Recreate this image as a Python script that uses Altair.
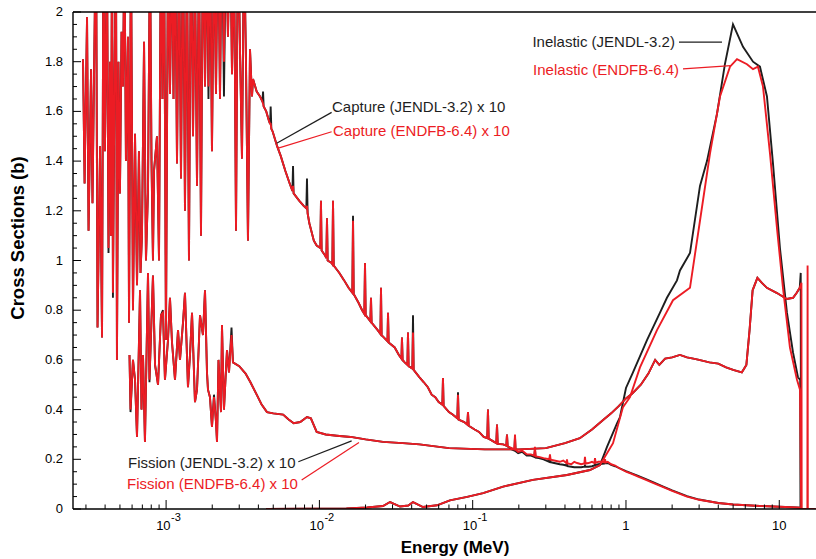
import altair as alt
import pandas as pd

BLACK = "#1e1e1e"
RED = "#ec1c24"
FONT = "Liberation Sans"

# ---------------- data (energies in MeV, cross sections in b) ----------------
# Capture x10 - resolved resonance region
cap_res_E = [2.87e-4, 2.94e-4, 3.05e-4, 3.12e-4, 3.24e-4, 3.31e-4, 3.49e-4, 3.57e-4, 3.71e-4, 3.82e-4,
             3.91e-4, 3.99e-4, 4.12e-4, 4.21e-4, 4.31e-4, 4.37e-4, 4.44e-4, 4.50e-4, 4.61e-4, 4.71e-4,
             4.78e-4, 4.89e-4, 5.00e-4, 5.12e-4, 5.23e-4, 5.35e-4, 5.47e-4, 5.64e-4, 5.73e-4, 5.90e-4,
             6.08e-4, 6.27e-4, 6.46e-4, 6.65e-4, 6.81e-4, 6.96e-4, 7.18e-4, 7.39e-4, 7.62e-4, 7.85e-4,
             8.03e-4, 8.21e-4, 8.34e-4, 8.72e-4, 8.99e-4, 9.26e-4, 9.47e-4, 9.69e-4, 9.98e-4, 1.029e-3,
             1.060e-3, 1.093e-3, 1.118e-3, 1.143e-3, 1.178e-3, 1.214e-3, 1.251e-3, 1.289e-3, 1.328e-3, 1.368e-3,
             1.410e-3, 1.454e-3, 1.498e-3, 1.543e-3, 1.591e-3, 1.639e-3, 1.689e-3, 1.740e-3, 1.794e-3, 1.848e-3,
             1.890e-3, 1.933e-3, 1.992e-3, 2.053e-3, 2.116e-3, 2.181e-3, 2.247e-3, 2.315e-3, 2.385e-3, 2.458e-3,
             2.533e-3, 2.611e-3, 2.691e-3, 2.773e-3, 2.858e-3, 2.944e-3, 3.034e-3, 3.127e-3, 3.222e-3, 3.320e-3,
             3.421e-3, 3.526e-3, 3.633e-3]
cap_res_endf = [1.81, 1.31, 1.98, 1.12, 1.77, 1.23, 2.40, 0.73, 1.46, 0.69,
                2.50, 1.44, 2.20, 1.05, 1.80, 1.10, 2.40, 0.87, 1.75, 2.30,
                0.60, 1.80, 1.27, 1.92, 1.70, 2.30, 1.40, 1.90, 0.75, 2.30,
                0.80, 1.51, 0.90, 1.44, 0.95, 1.10, 1.88, 1.00, 1.28, 2.30,
                1.40, 1.00, 1.36, 1.50, 1.00, 2.40, 1.65, 2.40, 0.68, 2.30,
                1.67, 2.30, 1.65, 2.40, 1.39, 2.30, 1.33, 2.40, 1.20, 2.30,
                1.00, 2.40, 1.50, 2.20, 1.30, 2.30, 1.10, 2.40, 1.70, 2.30,
                1.70, 2.40, 1.44, 2.30, 1.67, 2.40, 1.65, 2.40, 1.80, 2.30,
                1.90, 2.40, 1.75, 2.30, 1.12, 2.40, 1.85, 1.41, 2.30, 1.80,
                1.08, 1.85, 1.66]
cap_res_jendl = [1.81, 1.31, 1.98, 1.12, 1.77, 1.23, 2.40, 0.73, 1.46, 0.69,
                 2.50, 1.44, 2.20, 1.03, 1.80, 1.10, 2.40, 0.85, 1.75, 2.30,
                 0.60, 1.80, 1.27, 1.92, 1.70, 2.30, 1.40, 1.90, 0.75, 2.30,
                 0.80, 1.51, 0.90, 1.44, 0.95, 1.10, 1.88, 1.00, 1.28, 2.30,
                 1.40, 1.00, 1.36, 1.50, 1.00, 2.40, 1.65, 2.40, 0.68, 2.30,
                 1.67, 2.30, 1.65, 2.40, 1.39, 2.30, 1.33, 2.40, 1.20, 2.30,
                 1.00, 2.40, 1.50, 2.20, 1.30, 2.30, 1.10, 2.40, 1.70, 2.30,
                 1.65, 2.40, 1.44, 2.30, 1.67, 2.40, 1.65, 2.40, 1.66, 2.30,
                 1.90, 2.40, 1.75, 2.30, 1.12, 2.40, 1.85, 1.41, 2.30, 1.80,
                 1.08, 1.85, 1.66]

# Capture x10 - above the resolved resonances
cap_tail_E = [3.69e-3, 3.9e-3, 4.1e-3, 4.25e-3, 4.29e-3, 4.33e-3, 4.5e-3, 4.7e-3, 4.77e-3, 4.81e-3,
              4.86e-3, 4.95e-3, 5.3e-3, 5.6e-3, 6.0e-3, 6.4e-3, 6.67e-3, 6.73e-3, 6.79e-3, 7.4e-3,
              7.9e-3, 8.22e-3, 8.3e-3, 8.38e-3, 8.6e-3, 9.2e-3, 9.6e-3, 1.014e-2, 1.024e-2, 1.034e-2,
              1.09e-2, 1.11e-2, 1.121e-2, 1.132e-2, 1.2e-2, 1.215e-2, 1.227e-2, 1.24e-2, 1.35e-2, 1.45e-2,
              1.55e-2, 1.64e-2, 1.657e-2, 1.674e-2, 1.8e-2, 1.9e-2, 1.964e-2, 1.984e-2, 2.004e-2, 2.15e-2,
              2.171e-2, 2.19e-2, 2.4e-2, 2.5e-2, 2.523e-2, 2.546e-2, 2.78e-2, 2.803e-2, 2.83e-2, 3.1e-2,
              3.3e-2, 3.43e-2, 3.457e-2, 3.49e-2, 3.6e-2, 3.75e-2, 3.784e-2, 3.82e-2, 4.04e-2, 4.08e-2,
              4.12e-2, 4.5e-2, 4.8e-2, 5.1e-2, 5.4e-2, 5.7e-2, 6.0e-2, 6.34e-2, 6.4e-2, 6.46e-2,
              7.0e-2, 7.4e-2, 7.94e-2, 8.02e-2, 8.1e-2, 8.8e-2, 9.22e-2, 9.32e-2, 9.42e-2, 0.103,
              0.11, 0.118, 0.1245, 0.1258, 0.1271, 0.138, 0.1426, 0.1441, 0.1456, 0.158,
              0.1657, 0.1674, 0.1691, 0.18, 0.1869, 0.1888, 0.1907, 0.198, 0.21, 0.225,
              0.24, 0.252, 0.2548, 0.2575, 0.27, 0.29, 0.316, 0.3192, 0.3224, 0.34,
              0.37, 0.39, 0.408, 0.4122, 0.416, 0.44, 0.46, 0.48, 0.51, 0.535,
              0.54, 0.545, 0.57, 0.60, 0.622, 0.628, 0.634, 0.66, 0.70, 0.723,
              0.73, 0.737, 0.76, 0.80, 0.85, 0.9, 1.0, 1.1, 1.2, 1.35,
              1.5, 1.75, 2.0, 2.5, 3.0, 4.0, 5.0, 7.0, 10.0, 13.0,
              13.8]
cap_tail_endf = [1.73, 1.68, 1.66, 1.64, 1.63, 1.62, 1.60, 1.56, 1.55, 1.55,
                 1.53, 1.52, 1.46, 1.42, 1.36, 1.31, 1.28, 1.30, 1.27, 1.24,
                 1.22, 1.21, 1.22, 1.19, 1.15, 1.08, 1.06, 1.05, 1.24, 1.04,
                 1.02, 1.01, 1.17, 1.00, 0.99, 0.985, 1.24, 0.98, 0.95, 0.92,
                 0.89, 0.87, 1.16, 0.865, 0.83, 0.80, 0.785, 0.99, 0.78, 0.755,
                 0.85, 0.75, 0.72, 0.705, 0.89, 0.70, 0.675, 0.79, 0.67, 0.65,
                 0.62, 0.605, 0.69, 0.60, 0.59, 0.58, 0.71, 0.575, 0.565, 0.71,
                 0.56, 0.53, 0.51, 0.49, 0.46, 0.45, 0.43, 0.42, 0.527, 0.415,
                 0.39, 0.38, 0.365, 0.46, 0.36, 0.35, 0.34, 0.39, 0.335, 0.32,
                 0.31, 0.29, 0.285, 0.40, 0.283, 0.27, 0.265, 0.34, 0.262, 0.26,
                 0.255, 0.30, 0.252, 0.245, 0.24, 0.30, 0.238, 0.23, 0.235, 0.22,
                 0.22, 0.215, 0.25, 0.212, 0.21, 0.205, 0.20, 0.22, 0.198, 0.195,
                 0.19, 0.195, 0.185, 0.20, 0.183, 0.18, 0.19, 0.185, 0.18, 0.183,
                 0.21, 0.183, 0.185, 0.19, 0.185, 0.205, 0.186, 0.19, 0.19, 0.188,
                 0.20, 0.187, 0.19, 0.18, 0.175, 0.165, 0.15, 0.14, 0.13, 0.117,
                 0.105, 0.088, 0.073, 0.05, 0.037, 0.024, 0.018, 0.013, 0.009, 0.006,
                 0.005]
cap_tail_jendl = [1.73, 1.68, 1.66, 1.64, 1.68, 1.62, 1.60, 1.56, 1.55, 1.62,
                  1.53, 1.52, 1.46, 1.42, 1.36, 1.31, 1.28, 1.38, 1.27, 1.24,
                  1.22, 1.21, 1.33, 1.19, 1.15, 1.08, 1.06, 1.05, 1.24, 1.04,
                  1.02, 1.01, 1.17, 1.00, 0.99, 0.985, 1.24, 0.98, 0.95, 0.92,
                  0.89, 0.87, 1.18, 0.865, 0.83, 0.80, 0.785, 0.99, 0.78, 0.755,
                  0.85, 0.75, 0.72, 0.705, 0.89, 0.70, 0.675, 0.79, 0.67, 0.65,
                  0.62, 0.605, 0.69, 0.60, 0.59, 0.58, 0.71, 0.575, 0.565, 0.78,
                  0.56, 0.53, 0.51, 0.49, 0.46, 0.45, 0.43, 0.42, 0.527, 0.415,
                  0.39, 0.38, 0.365, 0.47, 0.36, 0.35, 0.34, 0.39, 0.335, 0.32,
                  0.31, 0.29, 0.285, 0.40, 0.283, 0.27, 0.265, 0.34, 0.262, 0.26,
                  0.255, 0.30, 0.252, 0.24, 0.235, 0.29, 0.232, 0.225, 0.23, 0.215,
                  0.215, 0.21, 0.24, 0.207, 0.205, 0.20, 0.19, 0.21, 0.188, 0.185,
                  0.18, 0.178, 0.175, 0.185, 0.172, 0.17, 0.168, 0.168, 0.168, 0.17,
                  0.175, 0.17, 0.17, 0.172, 0.175, 0.18, 0.177, 0.18, 0.182, 0.183,
                  0.185, 0.184, 0.185, 0.178, 0.172, 0.165, 0.152, 0.142, 0.133, 0.12,
                  0.108, 0.09, 0.075, 0.052, 0.038, 0.024, 0.018, 0.013, 0.009, 0.006,
                  0.005]

# Fission x10 - resolved resonance region
fis_res_E = [5.77e-4, 5.86e-4, 6.08e-4, 6.27e-4, 6.46e-4, 6.76e-4, 6.91e-4, 7.07e-4, 7.28e-4, 7.62e-4,
             7.79e-4, 8.21e-4, 8.47e-4, 8.86e-4, 9.26e-4, 9.54e-4, 9.83e-4, 1.029e-3, 1.060e-3, 1.093e-3,
             1.143e-3, 1.196e-3, 1.232e-3, 1.289e-3, 1.328e-3, 1.389e-3, 1.432e-3, 1.476e-3, 1.543e-3, 1.591e-3,
             1.664e-3, 1.740e-3, 1.794e-3, 1.848e-3, 1.876e-3, 1.933e-3, 1.992e-3, 2.053e-3, 2.116e-3, 2.148e-3,
             2.197e-3, 2.281e-3, 2.315e-3, 2.385e-3, 2.496e-3, 2.572e-3, 2.671e-3]
fis_res_endf = [0.62, 0.40, 0.60, 0.52, 0.29, 0.88, 0.40, 0.62, 0.27, 0.95,
                0.52, 0.94, 0.58, 0.50, 0.78, 0.79, 0.52, 0.68, 0.85, 0.67,
                0.52, 0.72, 0.60, 0.75, 0.87, 0.49, 0.62, 0.79, 0.43, 0.48,
                0.78, 0.70, 0.88, 0.55, 0.48, 0.45, 0.33, 0.45, 0.35, 0.27,
                0.60, 0.39, 0.74, 0.40, 0.64, 0.55, 0.70]
fis_res_jendl = [0.62, 0.39, 0.60, 0.52, 0.29, 0.88, 0.40, 0.62, 0.27, 0.95,
                 0.51, 0.94, 0.58, 0.50, 0.78, 0.80, 0.52, 0.68, 0.85, 0.67,
                 0.52, 0.72, 0.60, 0.75, 0.87, 0.49, 0.62, 0.79, 0.43, 0.48,
                 0.78, 0.70, 0.88, 0.55, 0.48, 0.45, 0.33, 0.46, 0.35, 0.27,
                 0.60, 0.39, 0.74, 0.40, 0.64, 0.55, 0.73]

# Fission x10 - smooth part (both libraries)
fis_E = [2.73e-3, 3.0e-3, 3.3e-3, 3.55e-3, 3.9e-3, 4.2e-3, 4.55e-3, 5.0e-3, 5.8e-3, 6.3e-3,
         6.8e-3, 7.5e-3, 8.3e-3, 8.8e-3, 9.6e-3, 1.1e-2, 1.3e-2, 1.6e-2, 2.0e-2, 2.6e-2,
         3.5e-2, 4.5e-2, 7.0e-2, 0.12, 0.2, 0.3, 0.4, 0.5, 0.6, 0.7,
         0.8, 0.9, 1.0, 1.1, 1.25, 1.4, 1.55, 1.65, 1.8, 2.0,
         2.25, 2.5, 2.75, 3.0, 3.5, 4.0, 4.5, 5.0, 5.7, 6.1,
         6.4, 6.7, 7.2, 7.7, 8.3, 9.6, 11.2, 12.3, 13.0, 13.6]
fis_v = [0.59, 0.575, 0.545, 0.51, 0.46, 0.42, 0.39, 0.385, 0.38, 0.36,
         0.345, 0.35, 0.37, 0.365, 0.31, 0.30, 0.295, 0.29, 0.28, 0.27,
         0.265, 0.26, 0.245, 0.24, 0.24, 0.245, 0.265, 0.285, 0.32, 0.355,
         0.385, 0.415, 0.445, 0.465, 0.50, 0.545, 0.60, 0.58, 0.605, 0.61,
         0.62, 0.61, 0.605, 0.60, 0.59, 0.585, 0.57, 0.56, 0.55, 0.58,
         0.72, 0.88, 0.93, 0.91, 0.89, 0.87, 0.845, 0.85, 0.87, 0.89]
fis_end_jendl_E = [13.8, 13.85]
fis_end_jendl_v = [0.95, 0.0]
fis_end_endf_E = [13.95, 14.0, 15.25, 15.3, 15.35, 17.3]
fis_end_endf_v = [0.91, 0.0, 0.0, 0.98, 0.0, 0.0]

# Inelastic - common low-energy part
inel_low_E = [4.5e-3, 1.5e-2, 2.05e-2, 2.6e-2, 2.89e-2, 3.36e-2, 3.8e-2, 4.08e-2, 4.74e-2, 5.85e-2,
              7.1e-2, 9.2e-2, 0.117, 0.158, 0.247, 0.412, 0.582, 0.677]
inel_low_v = [0.0, 0.002, 0.006, 0.012, 0.028, 0.010, 0.014, 0.028, 0.008, 0.015,
              0.035, 0.049, 0.064, 0.09, 0.117, 0.137, 0.157, 0.177]
inel_jendl_E = [0.752, 0.874, 0.914, 1.0, 1.111, 1.371, 1.667, 1.85, 2.151, 2.25,
                2.615, 3.039, 3.376, 3.924, 4.42, 4.99, 5.80, 6.74, 7.48, 8.31,
                9.10, 10.1, 11.22, 12.29, 13.24, 13.7, 13.75]
inel_jendl_v = [0.25, 0.345, 0.37, 0.487, 0.55, 0.68, 0.79, 0.85, 0.92, 0.96,
                1.03, 1.30, 1.40, 1.59, 1.79, 1.95, 1.86, 1.80, 1.78, 1.66,
                1.39, 1.05, 0.79, 0.63, 0.53, 0.52, 0.0]
inel_endf_E = [0.823, 0.956, 1.062, 1.234, 1.593, 2.026, 2.615, 3.039, 3.531, 4.105,
               4.77, 5.30, 6.155, 6.74, 7.26, 7.83, 8.70, 9.66, 10.57, 11.74,
               13.05, 13.65, 13.9]
inel_endf_v = [0.265, 0.41, 0.45, 0.57, 0.72, 0.84, 0.89, 1.16, 1.43, 1.66,
               1.78, 1.81, 1.79, 1.77, 1.78, 1.70, 1.43, 1.13, 0.89, 0.65,
               0.52, 0.48, 0.0]

# Axis ticks, labels and titles
x_major = [1e-3, 1e-2, 1e-1, 1, 10]
x_label_base = ["10", "10", "10", "1", "10"]
x_label_sup = ["-3", "-2", "-1", "", ""]
x_domain = [2.47e-4, 17.36]
y_domain = [0, 2]
y_major = [0, 0.2, 0.4, 0.6, 0.8, 1, 1.2, 1.4, 1.6, 1.8, 2]
y_major_labels = ["0", "0.2", "0.4", "0.6", "0.8", "1", "1.2", "1.4", "1.6", "1.8", "2"]
x_minor = [k * d for d in [1e-4, 1e-3, 1e-2, 1e-1, 1, 10] for k in range(2, 10)
           if x_domain[0] <= k * d <= x_domain[1]]
y_minor = [round(0.05 * i, 2) for i in range(41) if i % 4 != 0]
x_title = "Energy (MeV)"
y_title = "Cross Sections (b)"

# Annotations
ann_text = ["Inelastic (JENDL-3.2)", "Inelastic (ENDFB-6.4)",
            "Capture (JENDL-3.2) x 10", "Capture (ENDFB-6.4) x 10",
            "Fission (JENDL-3.2) x 10", "Fission (ENDFB-6.4) x 10"]
ann_E = [2.087, 2.217, 1.208e-2, 1.227e-2, 5.64e-4, 5.56e-4]
ann_v = [1.878, 1.767, 1.619, 1.522, 0.184, 0.101]
ann_lib = ["JENDL-3.2", "ENDFB-6.4"] * 3
ann_side = ["right", "right", "left", "left", "left", "left"]
lead_E1 = [2.217, 2.354, 1.202e-2, 1.202e-2, 7.29e-3, 7.66e-3]
lead_v1 = [1.879, 1.771, 1.596, 1.518, 0.190, 0.117]
lead_E2 = [4.229, 4.84, 5.265e-3, 5.395e-3, 1.624e-2, 1.813e-2]
lead_v2 = [1.879, 1.784, 1.472, 1.452, 0.274, 0.268]

# ---------------- build table ----------------
rows = []


def add(reaction, lib, E, V):
    assert len(E) == len(V), (reaction, lib, len(E), len(V))
    for i, (e, v) in enumerate(zip(E, V)):
        rows.append({"E": e, "xs": v, "lib": lib, "reaction": reaction, "idx": i})


add("capture", "JENDL-3.2", cap_res_E + cap_tail_E, cap_res_jendl + cap_tail_jendl)
add("capture", "ENDFB-6.4", cap_res_E + cap_tail_E, cap_res_endf + cap_tail_endf)
add("fission", "JENDL-3.2", fis_res_E + fis_E + fis_end_jendl_E, fis_res_jendl + fis_v + fis_end_jendl_v)
add("fission", "ENDFB-6.4", fis_res_E + fis_E + fis_end_endf_E, fis_res_endf + fis_v + fis_end_endf_v)
add("inelastic", "JENDL-3.2", inel_low_E + inel_jendl_E, inel_low_v + inel_jendl_v)
add("inelastic", "ENDFB-6.4", inel_low_E + inel_endf_E, inel_low_v + inel_endf_v)
df = pd.DataFrame(rows)

lib_color = {"JENDL-3.2": BLACK, "ENDFB-6.4": RED}
ann = pd.DataFrame({"E": ann_E, "v": ann_v, "text": ann_text,
                    "col": [lib_color[l] for l in ann_lib], "side": ann_side})
lead = pd.DataFrame({"E1": lead_E1, "v1": lead_v1, "E2": lead_E2, "v2": lead_v2,
                     "col": [lib_color[l] for l in ann_lib]})
xlab = pd.DataFrame({"t": x_major, "base": x_label_base, "sup": x_label_sup})
ylab = pd.DataFrame({"t": y_major, "label": y_major_labels})
one = pd.DataFrame({"xt": [x_title], "yt": [y_title], "top": [y_domain[1]]})

W, H = 743, 497
xscale = alt.Scale(type="log", domain=x_domain)
yscale = alt.Scale(domain=y_domain)


def lines(lib, color):
    return alt.Chart(df[df["lib"] == lib]).mark_line(clip=True, strokeWidth=1.9, color=color).encode(
        x=alt.X("E:Q", scale=xscale, axis=None),
        y=alt.Y("xs:Q", scale=yscale, axis=None),
        detail="reaction:N",
        order="idx:Q",
    )


# frame: left axis line, bottom axis line, top border
left_line = alt.Chart(one).mark_rule(color="black", strokeWidth=1.4).encode(
    x=alt.value(0), y=alt.value(0), y2=alt.value(H))
bottom_line = alt.Chart(one).mark_rule(color="black", strokeWidth=1.4).encode(
    x=alt.value(0), x2=alt.value(W), y=alt.value(H))
top_line = alt.Chart(one).mark_rule(color="black", strokeWidth=1.4).encode(
    y=alt.Y("top:Q", scale=yscale, axis=None))


def xticks(vals, length):
    return alt.Chart(pd.DataFrame({"t": vals})).mark_rule(color="black", strokeWidth=1).encode(
        x=alt.X("t:Q", scale=xscale, axis=None), y=alt.value(H), y2=alt.value(H - length))


def yticks(vals, length):
    return alt.Chart(pd.DataFrame({"t": vals})).mark_rule(color="black", strokeWidth=1).encode(
        y=alt.Y("t:Q", scale=yscale, axis=None), x=alt.value(0), x2=alt.value(length))


xl_base_sup = alt.Chart(xlab[xlab["sup"] != ""]).mark_text(
    align="right", baseline="alphabetic", dx=4.5, font=FONT, fontSize=13, color="black").encode(
    x=alt.X("t:Q", scale=xscale, axis=None), y=alt.value(H + 20.5), text="base:N")
xl_sup = alt.Chart(xlab[xlab["sup"] != ""]).mark_text(
    align="left", baseline="alphabetic", dx=5, font=FONT, fontSize=11, color="black").encode(
    x=alt.X("t:Q", scale=xscale, axis=None), y=alt.value(H + 12), text="sup:N")
xl_plain = alt.Chart(xlab[xlab["sup"] == ""]).mark_text(
    align="center", baseline="alphabetic", font=FONT, fontSize=13, color="black").encode(
    x=alt.X("t:Q", scale=xscale, axis=None), y=alt.value(H + 20.5), text="base:N")
yl = alt.Chart(ylab).mark_text(
    align="right", baseline="middle", font=FONT, fontSize=13, color="black").encode(
    y=alt.Y("t:Q", scale=yscale, axis=None), x=alt.value(-10), text="label:N")

x_title_mark = alt.Chart(one).mark_text(
    align="center", baseline="middle", font=FONT, fontSize=17, fontWeight="bold", color="black").encode(
    x=alt.value(382), y=alt.value(H + 39), text="xt:N")
y_title_mark = alt.Chart(one).mark_text(
    align="center", baseline="middle", angle=270, font=FONT, fontSize=18.5, fontWeight="bold",
    color="black").encode(
    x=alt.value(-55), y=alt.value(226), text="yt:N")

leaders = alt.Chart(lead).mark_rule(strokeWidth=1.2).encode(
    x=alt.X("E1:Q", scale=xscale, axis=None), x2="E2:Q",
    y=alt.Y("v1:Q", scale=yscale, axis=None), y2="v2:Q",
    color=alt.Color("col:N", scale=None))


def texts(side):
    return alt.Chart(ann[ann["side"] == side]).mark_text(
        align=side, baseline="middle", font=FONT, fontSize=15).encode(
        x=alt.X("E:Q", scale=xscale, axis=None), y=alt.Y("v:Q", scale=yscale, axis=None),
        text="text:N", color=alt.Color("col:N", scale=None))


chart = alt.layer(
    lines("JENDL-3.2", BLACK), lines("ENDFB-6.4", RED),
    left_line, bottom_line, top_line,
    xticks(x_major, 9), xticks(x_minor, 4.5), yticks(y_major, 8), yticks(y_minor, 4),
    xl_base_sup, xl_sup, xl_plain, yl, x_title_mark, y_title_mark,
    leaders, texts("right"), texts("left"),
).properties(
    width=W, height=H,
    autosize=alt.AutoSizeParams(type="none"),
    padding={"left": 73, "top": 12, "right": 0, "bottom": 50},
    background="white",
).configure(font=FONT).configure_view(stroke=None)

chart.save("out.html", embed_options={"renderer": "svg", "actions": False})
